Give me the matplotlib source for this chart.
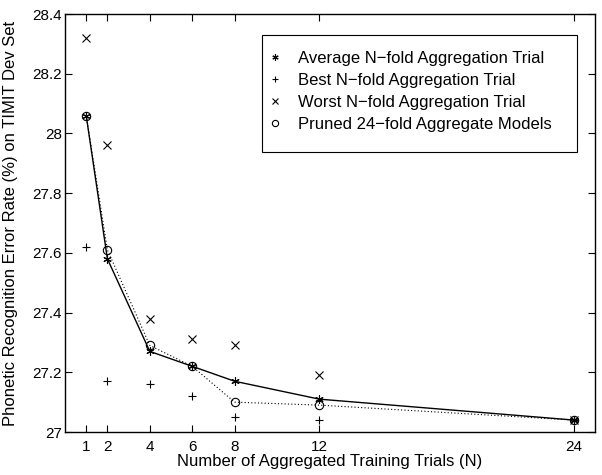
import matplotlib
matplotlib.use("Agg")
import matplotlib.pyplot as plt
from matplotlib.patches import Rectangle

plt.rcParams['font.family'] = ['Liberation Sans', 'DejaVu Sans']

n_trials = [1, 2, 4, 6, 8, 12, 24]
average = [28.06, 27.58, 27.27, 27.22, 27.17, 27.11, 27.04]
best = [27.62, 27.17, 27.16, 27.12, 27.05, 27.04, 27.04]
worst = [28.32, 27.96, 27.38, 27.31, 27.29, 27.19, 27.04]
pruned = [28.06, 27.61, 27.29, 27.22, 27.10, 27.09, 27.04]
yticks = [27, 27.2, 27.4, 27.6, 27.8, 28, 28.2, 28.4]
ytick_labels = ['27', '27.2', '27.4', '27.6', '27.8', '28', '28.2', '28.4']

W, H = 602, 475
fig = plt.figure(figsize=(W / 100, H / 100), dpi=100)
ax = fig.add_axes([65/W, 1 - 432/H, 530/W, 418/H])

ax.plot(n_trials, average, color='black', linewidth=1.0)
ax.plot(n_trials, pruned, color='black', linewidth=0.8, linestyle=(0, (1, 2)))
ms = 6
ax.plot(n_trials, average, linestyle='none', marker=(6, 2, 0), color='black', markersize=ms, markeredgewidth=0.8, label='Average N\u2212fold Aggregation Trial')
ax.plot(n_trials, best, linestyle='none', marker='+', color='black', markersize=ms, markeredgewidth=0.8, label='Best N\u2212fold Aggregation Trial')
ax.plot(n_trials, worst, linestyle='none', marker='x', color='black', markersize=ms, markeredgewidth=0.8, label='Worst N\u2212fold Aggregation Trial')
ax.plot(n_trials, pruned, linestyle='none', marker='o', markerfacecolor='none', color='black', markersize=ms, markeredgewidth=0.8, label='Pruned 24\u2212fold Aggregate Models')

ax.set_xlim(0, 25)
ax.set_ylim(27, 28.4)
ax.set_xticks(n_trials)
ax.set_xticklabels([str(v) for v in n_trials])
ax.set_yticks(yticks)
ax.set_yticklabels(ytick_labels)
ax.tick_params(direction='in', top=True, right=True, labelsize=11, length=5, width=0.8)
ax.tick_params(axis='x', pad=5.5)
ax.tick_params(axis='y', pad=2)
for s in ax.spines.values():
    s.set_linewidth(1.0)

ax.set_xlabel('Number of Aggregated Training Trials (N)', fontsize=12, labelpad=0)
ax.set_ylabel('Phonetic Recognition Error Rate (%) on TIMIT Dev Set', fontsize=12)
ax.yaxis.set_label_coords(-0.089, 0.5)

# legend box
box = Rectangle((262/W, 1 - 152/H), (577 - 262)/W, (152 - 35)/H,
                transform=fig.transFigure, facecolor='white',
                edgecolor='black', linewidth=0.8, zorder=4, clip_on=False)
ax.add_patch(box)
leg = ax.legend(loc='upper left', bbox_to_anchor=(262/W, 1 - 44/H), bbox_transform=fig.transFigure,
                frameon=False, fontsize=12, markerscale=0.75,
                handlelength=0.75, borderpad=0.4, labelspacing=0.43, handletextpad=1.0,
                borderaxespad=0)
leg.set_zorder(6)

fig.savefig('out.png', dpi=100)
